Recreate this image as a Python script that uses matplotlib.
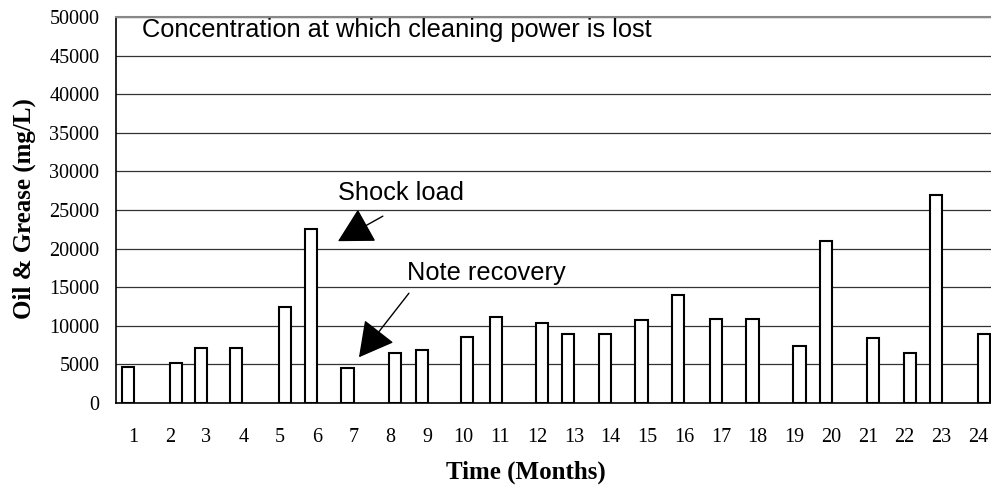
import matplotlib.pyplot as plt

# data
months = list(range(1, 25))
# sampling time within each month (bars sit slightly off the month ticks)
sample_time = [0.86, 2.16, 2.86, 3.81, 5.14, 5.84, 6.84, 8.14, 8.86, 10.08, 10.89, 12.14,
               12.84, 13.84, 14.84, 15.84, 16.86, 17.86, 19.14, 19.86, 21.14, 22.14, 22.86, 24.16]
oil_grease = [4600, 5200, 7100, 7100, 12400, 22600, 4500, 6500, 6900, 8600, 11200, 10400,
              8900, 9000, 10700, 14000, 10900, 10900, 7400, 21000, 8400, 6500, 26900, 8900]

fig = plt.figure(figsize=(9.91, 4.87), dpi=100)
ax = fig.add_axes([0.117, 0.1725, 0.883, 0.7926])

ax.bar(sample_time, oil_grease, width=0.33, color='white', edgecolor='black', linewidth=1.5, zorder=3)

ax.set_xlim(0.537, 24.35)
ax.set_ylim(0, 50000)
ax.set_yticks(range(0, 50001, 5000))
ax.set_xticks(months)
ax.yaxis.grid(True, color='#333333', linewidth=0.9, zorder=0)
ax.tick_params(axis='both', length=0, labelsize=14.5)
ax.tick_params(axis='x', pad=18)
ax.tick_params(axis='y', pad=12)
for lbl in ax.get_xticklabels() + ax.get_yticklabels():
    lbl.set_family('Liberation Serif')

ax.spines['right'].set_visible(False)
ax.spines['top'].set_color('#888888')
ax.spines['top'].set_linewidth(1.5)
ax.spines['left'].set_linewidth(1.2)
ax.spines['bottom'].set_linewidth(1.2)

ax.set_xlabel('Time (Months)', family='Liberation Serif', fontweight='bold', fontsize=18)
ax.set_ylabel('Oil & Grease (mg/L)', family='Liberation Serif', fontweight='bold', fontsize=18)
ax.xaxis.set_label_coords(0.468, -0.148)
ax.yaxis.set_label_coords(-0.0914, 0.504)

# annotations
ax.text(1.245, 48300, 'Concentration at which cleaning power is lost', family='Liberation Sans',
        fontsize=18.3, va='center', ha='left')
arrow = dict(arrowstyle='-|>,head_length=2.2,head_width=1.2', mutation_scale=10,
             color='black', lw=1, shrinkA=0, shrinkB=0)
ax.annotate('', xy=(6.58, 20960), xytext=(7.80, 24200), arrowprops=arrow)
ax.text(8.29, 27180, 'Shock load', family='Liberation Sans', fontsize=18.3, ha='center', va='center')
ax.annotate('', xy=(7.15, 5920), xytext=(8.51, 14220), arrowprops=arrow)
ax.text(10.63, 16810, 'Note recovery', family='Liberation Sans', fontsize=18.3, ha='center', va='center')

fig.savefig('out.png', dpi=100)
